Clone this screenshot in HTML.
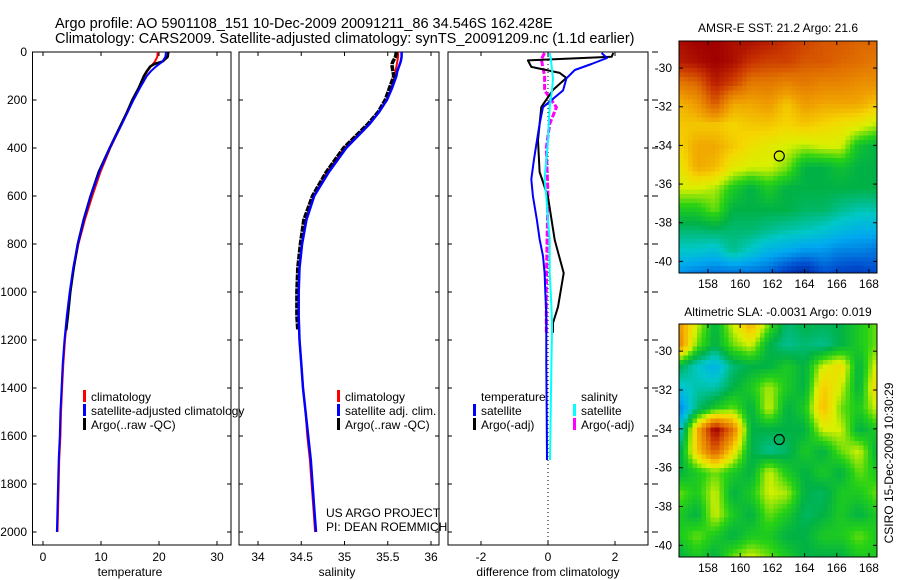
<!DOCTYPE html>
<html><head><meta charset="utf-8"><style>
html,body{margin:0;padding:0;background:#fff}
svg{display:block;font-family:"Liberation Sans",sans-serif}
</style></head><body>
<svg id="fig" width="900" height="580" viewBox="0 0 900 580">
<text x="55" y="28" font-size="14.5">Argo profile: AO 5901108_151 10-Dec-2009 20091211_86 34.546S 162.428E</text>
<text x="55" y="43" font-size="14.5">Climatology: CARS2009. Satellite-adjusted climatology: synTS_20091209.nc (1.1d earlier)</text>
<g id="p1"></g>
<g id="p2"></g>
<g id="p3"></g>
<g id="m1"></g>
<g id="m2"></g>
<text x="778" y="32" font-size="12" text-anchor="middle">AMSR-E SST: 21.2 Argo: 21.6</text>
<text x="778" y="316" font-size="12" text-anchor="middle">Altimetric SLA: -0.0031  Argo: 0.019</text>
<text transform="translate(893,463) rotate(-90)" font-size="12" text-anchor="middle">CSIRO 15-Dec-2009 10:30:29</text>
</svg>
<script>
// ---------- data ----------
const depths = [0,20,40,60,80,100,150,200,250,300,400,500,600,700,800,900,1000,1100,1200,1300,1400,1500,1600,1700,1800,1900,2000];
const tempClim = [19.8,19.7,19.3,18.6,18.0,17.5,16.5,15.5,14.6,13.6,11.6,9.9,8.5,7.2,6.1,5.3,4.7,4.2,3.8,3.5,3.3,3.1,3.0,2.8,2.7,2.6,2.5];
const tempSat = [21.2,21.1,20.6,19.5,18.6,17.9,16.7,15.6,14.6,13.6,11.5,9.7,8.2,7.0,6.0,5.2,4.6,4.1,3.7,3.4,3.2,3.0,2.9,2.7,2.6,2.5,2.4];
const argoDepths = [0,20,40,50,60,80,100,150,200,250,300,400,500,600,700,800,900,1000,1100,1160];
const tempArgo = [21.6,21.5,20.6,19.2,18.5,17.9,17.4,16.5,15.4,14.5,13.5,11.5,9.6,8.2,7.0,6.0,5.3,4.7,4.3,4.0];
const salClim = [35.62,35.62,35.61,35.60,35.59,35.58,35.54,35.49,35.40,35.28,35.00,34.80,34.64,34.55,34.51,34.48,34.47,34.47,34.48,34.50,34.52,34.55,34.57,34.60,34.62,34.64,34.66];
const salSat = [35.66,35.66,35.65,35.63,35.61,35.60,35.55,35.49,35.40,35.29,35.02,34.82,34.65,34.56,34.51,34.48,34.47,34.47,34.48,34.50,34.52,34.55,34.58,34.61,34.63,34.65,34.67];
const salArgo = [35.60,35.59,35.56,35.55,35.55,35.56,35.57,35.52,35.47,35.39,35.27,34.99,34.79,34.63,34.53,34.49,34.46,34.45,34.45,34.46];
const diffDepths = [4,25,50,75,110,160,230,300,370,450,530,600,700,780,850,920,1000,1060,1130,1160,1300,1500,1700];
const dTempSat = [1.6,1.76,1.3,0.8,0.55,0.45,-0.15,-0.25,-0.33,-0.42,-0.5,-0.45,-0.33,-0.25,-0.15,-0.1,-0.08,-0.06,-0.05,-0.05,-0.05,-0.04,-0.03];
const dSalSat = [0.05,0.08,0.1,0.12,0.15,0.12,0.05,0.02,0.0,-0.05,-0.1,-0.05,0.0,0.05,0.05,0.05,0.08,0.1,0.12,0.12,0.1,0.08,0.06];
const argoDiffDepths = [4,20,35,62,87,108,158,229,367,500,604,783,921,1062,1129,1170];
const dTempArgo = [1.95,1.9,-0.6,-0.5,0.35,0.55,0.15,-0.2,-0.3,-0.25,0.0,0.2,0.47,0.3,0.15,0.15];
const salDiffDepths = [4,30,100,160,230,300,400,600,800,1000,1170];
const dSalArgo = [-0.1,-0.2,-0.1,-0.1,0.25,0.05,-0.05,0.0,-0.03,-0.05,-0.05];
const depthTicks = [0,200,400,600,800,1000,1200,1400,1600,1800,2000];
const tempTicks = [0,10,20,30];
const salTicks = [34,34.5,35,35.5,36];
const diffTicks = [-2,0,2];
const latTicks = [-30,-32,-34,-36,-38,-40];
const lonTicks = [158,160,162,164,166,168];
const sstGrid = [
[0.95,0.97,0.97,0.95,0.95,0.93,0.9,0.88,0.85,0.85,0.83,0.83],
[0.93,0.95,0.97,0.95,0.9,0.88,0.88,0.85,0.85,0.83,0.82,0.8],
[0.8,0.83,0.93,0.88,0.8,0.8,0.78,0.8,0.78,0.78,0.76,0.76],
[0.7,0.74,0.85,0.72,0.72,0.74,0.68,0.74,0.72,0.72,0.72,0.68],
[0.68,0.68,0.68,0.66,0.68,0.68,0.66,0.68,0.66,0.64,0.62,0.58],
[0.66,0.72,0.72,0.68,0.64,0.62,0.6,0.58,0.6,0.6,0.48,0.45],
[0.62,0.72,0.7,0.62,0.6,0.6,0.56,0.45,0.45,0.48,0.45,0.45],
[0.6,0.6,0.58,0.5,0.45,0.5,0.45,0.45,0.45,0.45,0.45,0.45],
[0.5,0.5,0.55,0.45,0.45,0.45,0.45,0.43,0.43,0.4,0.38,0.38],
[0.42,0.42,0.43,0.42,0.42,0.4,0.38,0.37,0.35,0.32,0.3,0.3],
[0.35,0.35,0.33,0.4,0.35,0.3,0.28,0.25,0.25,0.22,0.22,0.2],
[0.25,0.22,0.2,0.2,0.2,0.18,0.1,0.05,0.15,0.12,0.1,0.15]];
const slaGrid = [
[0.75,0.6,0.45,0.6,0.72,0.55,0.42,0.45,0.44,0.45,0.5,0.55],
[0.78,0.55,0.45,0.55,0.6,0.45,0.4,0.42,0.4,0.45,0.5,0.55],
[0.45,0.36,0.3,0.42,0.45,0.45,0.5,0.45,0.6,0.65,0.45,0.62],
[0.34,0.38,0.38,0.45,0.5,0.58,0.5,0.45,0.68,0.6,0.45,0.68],
[0.22,0.42,0.5,0.55,0.45,0.6,0.45,0.5,0.7,0.55,0.5,0.6],
[0.33,0.7,0.98,0.8,0.45,0.45,0.45,0.45,0.6,0.6,0.45,0.5],
[0.42,0.68,0.85,0.65,0.45,0.4,0.43,0.5,0.45,0.55,0.6,0.45],
[0.45,0.5,0.55,0.5,0.45,0.6,0.5,0.45,0.5,0.45,0.55,0.5],
[0.55,0.5,0.6,0.45,0.5,0.6,0.58,0.45,0.43,0.5,0.5,0.55],
[0.5,0.45,0.6,0.5,0.45,0.55,0.5,0.43,0.45,0.5,0.45,0.5],
[0.5,0.55,0.5,0.45,0.5,0.5,0.45,0.45,0.5,0.5,0.55,0.5],
[0.45,0.5,0.45,0.55,0.6,0.55,0.5,0.45,0.45,0.45,0.5,0.5]];
const floatLon = 162.43, floatLat = -34.55;

// ---------- helpers ----------
const NS="http://www.w3.org/2000/svg";
function mk(parent,tag,attrs){const e=document.createElementNS(NS,tag);for(const k in attrs)e.setAttribute(k,attrs[k]);parent.appendChild(e);return e;}
const top0=52, bot0=545;
const yD = d => 52 + d*0.24;
function panel(g,x0,x1,xTicks,xScale,showY,label,lx){
  const r=mk(g,'rect',{x:x0,y:top0,width:x1-x0,height:bot0-top0,fill:'none',stroke:'#000','stroke-width':1});
  
  xTicks.forEach(t=>{const x=xScale(t);
    mk(g,'line',{x1:x,x2:x,y1:bot0,y2:bot0-4,stroke:'#000'});
    mk(g,'line',{x1:x,x2:x,y1:top0,y2:top0+4,stroke:'#000'});
    const tx=mk(g,'text',{x:x,y:561,'font-size':12,'text-anchor':'middle'});tx.textContent=t;
    });
  depthTicks.forEach(d=>{const y=yD(d);
    mk(g,'line',{x1:x0,x2:x0+4,y1:y,y2:y,stroke:'#000'});
    mk(g,'line',{x1:x1,x2:x1-4,y1:y,y2:y,stroke:'#000'});
    if(showY){const tx=mk(g,'text',{x:27,y:y+4,'font-size':12,'text-anchor':'end'});tx.textContent=d;
      }});
  const l=mk(g,'text',{x:lx,y:576,'font-size':12,'text-anchor':'middle'});l.textContent=label;
  
}
function line(g,xs,ds,xScale,color,w,name,dash){
  const pts=xs.map((v,i)=>xScale(v).toFixed(1)+','+yD(ds[i]).toFixed(1)).join(' ');
  const p=mk(g,'polyline',{points:pts,fill:'none',stroke:color,'stroke-width':w,'stroke-linejoin':'round'});
  if(dash)p.setAttribute('stroke-dasharray',dash);
  
}
function legend(g,x,y,color,text,nm){
  if(color)mk(g,'rect',{x:x,y:y-8,width:3,height:12,fill:color});
  const t=mk(g,'text',{x:x+8,y:y+3,'font-size':12});t.textContent=text;
  
}

// panel 1
const g1=document.getElementById('p1');
const xT=v=>43+v*5.8;
panel(g1,32.5,231,tempTicks,xT,true,'temperature',130);
line(g1,tempClim,depths,xT,'#f00',2,'temp-climatology-line');
line(g1,tempArgo,argoDepths,xT,'#000',2.5,'temp-argo-line');
line(g1,tempSat,depths,xT,'#00f',2,'temp-satellite-line');
legend(g1,83,398,'#f00','climatology','legend-climatology');
legend(g1,83,412,'#00f','satellite-adjusted climatology','legend-satellite');
legend(g1,83,426,'#000','Argo(..raw -QC)','legend-argo');

// panel 2
const g2=document.getElementById('p2');
const xS=v=>258+(v-34)*86.5;
panel(g2,239,439,salTicks,xS,false,'salinity',337);
line(g2,salClim,depths,xS,'#f00',2,'sal-climatology-line');
line(g2,salArgo,argoDepths,xS,'#000',3.5,'sal-argo-line','6 1');
line(g2,salSat,depths,xS,'#00f',2.5,'sal-satellite-line');
legend(g2,337,398,'#f00','climatology','legend-climatology');
legend(g2,337,412,'#00f','satellite adj. clim.','legend-satellite');
legend(g2,337,426,'#000','Argo(..raw -QC)','legend-argo');
[['US ARGO PROJECT',517],['PI: DEAN ROEMMICH',531]].forEach(([s,y])=>{const t=mk(g2,'text',{x:326,y:y,'font-size':12});t.textContent=s;
  });

// panel 3
const g3=document.getElementById('p3');
const xDf=v=>548+v*33.5;
panel(g3,448,648,diffTicks,xDf,false,'difference from climatology',548);
mk(g3,'line',{x1:xDf(0),x2:xDf(0),y1:top0,y2:bot0,stroke:'#000','stroke-dasharray':'1 3'});
depthTicks.forEach(d=>mk(g3,'line',{x1:652,x2:658,y1:yD(d),y2:yD(d),stroke:'#000'}));
line(g3,dSalArgo,salDiffDepths,xDf,'#f0f',3,'sal-argo-diff-line','6 2');
line(g3,dTempArgo,argoDiffDepths,xDf,'#000',2,'temp-argo-diff-line');
line(g3,dTempSat,diffDepths,xDf,'#00f',2,'temp-satellite-diff-line');
line(g3,dSalSat,diffDepths,xDf,'#0ff',2,'sal-satellite-diff-line');
legend(g3,473,398,null,'temperature','legend-temperature-head');
legend(g3,473,412,'#00f','satellite','legend-temp-satellite');
legend(g3,473,426,'#000','Argo(-adj)','legend-temp-argo');
legend(g3,573,398,null,'salinity','legend-salinity-head');
legend(g3,573,412,'#0ff','satellite','legend-sal-satellite');
legend(g3,573,426,'#f0f','Argo(-adj)','legend-sal-argo');

// maps
const stops=[[0,[0,16,138]],[0.15,[0,80,208]],[0.28,[0,168,240]],[0.36,[0,200,200]],[0.45,[0,178,70]],[0.52,[40,210,20]],[0.6,[216,240,0]],[0.66,[245,215,0]],[0.73,[240,160,0]],[0.82,[224,110,0]],[0.9,[200,50,0]],[0.97,[160,0,0]],[1,[150,0,0]]];
function cmap(v){for(let i=1;i<stops.length;i++){if(v<=stops[i][0]){const a=stops[i-1],b=stops[i],f=(v-a[0])/(b[0]-a[0]);
  return 'rgb('+a[1].map((c,k)=>Math.round(c+(b[1][k]-c)*f)).join(',')+')';}}return 'rgb(150,0,0)';}
function drawMap(g,grid,y0,y1,nm){
  const x0=679,x1=877,lon0=156.2,lon1=168.5,lat0=-28.6,lat1=-40.6;
  const X=lon=>x0+(lon-lon0)/(lon1-lon0)*(x1-x0);
  const Y=lat=>y0+(lat-lat0)/(lat1-lat0)*(y1-y0);
  const nr=grid.length,nc=grid[0].length,step=4.5;
  const cells=mk(g,'g',{});
  for(let y=y0;y<y1;y+=step)for(let x=x0;x<x1;x+=step){
    const fx=(x+step/2-x0)/(x1-x0)*(nc-1),fy=(y+step/2-y0)/(y1-y0)*(nr-1);
    const i=Math.min(Math.floor(fy),nr-2),j=Math.min(Math.floor(fx),nc-2),u=fy-i,w=fx-j;
    const v=grid[i][j]*(1-u)*(1-w)+grid[i][j+1]*(1-u)*w+grid[i+1][j]*u*(1-w)+grid[i+1][j+1]*u*w;
    mk(cells,'rect',{x:x,y:y,width:Math.min(step+0.3,x1-x),height:Math.min(step+0.3,y1-y),fill:cmap(v)});}
  mk(g,'rect',{x:x0,y:y0,width:x1-x0,height:y1-y0,fill:'none',stroke:'#000'});
  lonTicks.forEach(l=>{const x=X(l);mk(g,'line',{x1:x,x2:x,y1:y1,y2:y1-4,stroke:'#000'});mk(g,'line',{x1:x,x2:x,y1:y0,y2:y0+4,stroke:'#000'});
    const t=mk(g,'text',{x:x,y:y1+15,'font-size':12,'text-anchor':'middle'});t.textContent=l;
    });
  latTicks.forEach(l=>{const y=Y(l);mk(g,'line',{x1:x0,x2:x0+4,y1:y,y2:y,stroke:'#000'});mk(g,'line',{x1:x1,x2:x1-4,y1:y,y2:y,stroke:'#000'});
    const t=mk(g,'text',{x:672,y:y+4,'font-size':12,'text-anchor':'end'});t.textContent=l;
    });
  const c=mk(g,'circle',{cx:X(floatLon),cy:Y(floatLat),r:5,fill:'none',stroke:'#000','stroke-width':1.2});
  
}
drawMap(document.getElementById('m1'),sstGrid,41,273,'sst');
drawMap(document.getElementById('m2'),slaGrid,324,557,'sla');
</script>
</body></html>
